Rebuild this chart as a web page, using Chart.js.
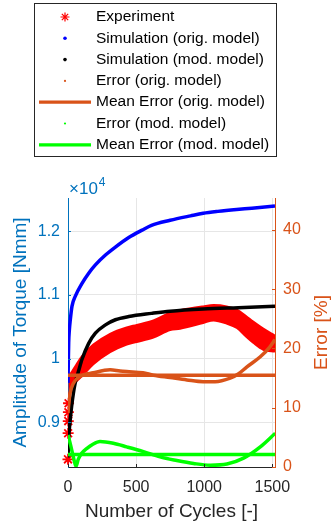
<!DOCTYPE html>
<html>
<head>
<meta charset="utf-8">
<script src="https://cdn.jsdelivr.net/npm/chart.js@4.4.1/dist/chart.umd.min.js"></script>
<style>
html, body { margin: 0; padding: 0; background: #fff; }
#wrap { width: 333px; height: 526px; }
</style>
</head>
<body>
<div id="wrap"><canvas id="cyclesChart" width="333" height="526"></canvas></div>
<script>
var xTicks = [0, 500, 1000, 1500];
var torqueTicks = [9000, 10000, 11000, 12000];
var errorTicks = [0, 10, 20, 30, 40];

// experiment: first cycles as single markers, the rest as a band
var expCycles = [0, 1, 2, 3, 4];
var expTorque = [8420, 8830, 9020, 9160, 9300];
var bandCycles = [3, 10, 30, 60, 100, 186, 309, 431, 505, 627, 750, 823, 993, 1069, 1165, 1240, 1311, 1360, 1434, 1520];
var bandUpper = [9650, 9720, 9800, 9900, 10030, 10220, 10390, 10490, 10530, 10600, 10720, 10760, 10820, 10840, 10820, 10770, 10660, 10580, 10470, 10360];
var bandLower = [9300, 9450, 9550, 9640, 9720, 9910, 10100, 10220, 10260, 10330, 10450, 10470, 10560, 10600, 10550, 10480, 10340, 10250, 10140, 10110];

var origCycles = [0, 2, 5, 10, 17, 29, 54, 103, 152, 201, 275, 348, 446, 544, 613, 750, 900, 993, 1100, 1238, 1350, 1520];
var origTorque = [9620, 9900, 10250, 10450, 10610, 10820, 10980, 11180, 11340, 11470, 11625, 11750, 11900, 12016, 12090, 12170, 12240, 12280, 12310, 12340, 12360, 12395];

var modCycles = [0, 5, 10, 20, 27, 39, 51, 66, 78, 103, 152, 201, 275, 348, 446, 613, 750, 993, 1250, 1520];
var modTorque = [8450, 8750, 8900, 9120, 9260, 9450, 9600, 9720, 9810, 9990, 10240, 10400, 10530, 10610, 10660, 10710, 10745, 10780, 10800, 10820];

var errOrigCycles = [0, 5, 15, 39, 88, 186, 309, 382, 431, 550, 627, 750, 873, 993, 1080, 1191, 1250, 1314, 1412, 1480, 1520];
var errOrig = [9.1, 10.5, 12.4, 14.1, 15.3, 15.9, 16.4, 16.2, 16.1, 15.9, 15.5, 15.1, 14.7, 14.4, 14.4, 15.0, 15.7, 16.9, 18.6, 20.2, 21.5];

var errModCycles = [0, 20, 40, 59, 75, 100, 137, 180, 235, 333, 431, 554, 676, 799, 922, 1044, 1167, 1289, 1412, 1522];
var errMod = [5.4, 3.6, 1.6, 0.1, 1.3, 2.3, 3.1, 3.8, 4.3, 4.0, 3.4, 2.6, 1.7, 1.1, 0.6, 0.3, 0.5, 1.5, 3.4, 5.7];

var meanErrOrig = 15.5;
var meanErrMod = 2.1;
var xMax = 1520;

var BLUE_AX = '#0072BD';
var ORANGE = '#D95319';
var DARK = '#262626';
var FONT = "'Liberation Sans', Arial, sans-serif";

Chart.defaults.font.family = FONT;

function pts(xs, ys) {
  return xs.map(function (x, i) { return {x: x, y: ys[i]}; });
}

function setTicks(list) {
  return function (scale) {
    scale.ticks = list.map(function (v) { return {value: v}; });
  };
}

var legendItems = [
  {label: 'Experiment', kind: 'star', color: '#ff0000'},
  {label: 'Simulation (orig. model)', kind: 'dot', color: '#0000ff', r: 1.8},
  {label: 'Simulation (mod. model)', kind: 'dot', color: '#000000', r: 1.8},
  {label: 'Error (orig. model)', kind: 'dot', color: ORANGE, r: 1.1},
  {label: 'Mean Error (orig. model)', kind: 'line', color: ORANGE},
  {label: 'Error (mod. model)', kind: 'dot', color: '#00ff00', r: 1.1},
  {label: 'Mean Error (mod. model)', kind: 'line', color: '#00ff00'}
];

var extras = {
  id: 'extras',
  afterDraw: function (chart) {
    var ctx = chart.ctx;
    var area = chart.chartArea;
    var sc = chart.scales;
    ctx.save();

    // inward tick marks, matlab style
    ctx.lineWidth = 1;
    ctx.strokeStyle = DARK;
    xTicks.forEach(function (v) {
      var px = Math.round(sc.x.getPixelForValue(v)) + 0.5;
      ctx.beginPath(); ctx.moveTo(px, area.bottom); ctx.lineTo(px, area.bottom - 3); ctx.stroke();
    });
    ctx.strokeStyle = BLUE_AX;
    torqueTicks.forEach(function (v) {
      var py = Math.round(sc.yL.getPixelForValue(v)) + 0.5;
      ctx.beginPath(); ctx.moveTo(area.left, py); ctx.lineTo(area.left + 3, py); ctx.stroke();
    });
    ctx.strokeStyle = ORANGE;
    errorTicks.forEach(function (v) {
      var py = Math.round(sc.yR.getPixelForValue(v)) + 0.5;
      ctx.beginPath(); ctx.moveTo(area.right, py); ctx.lineTo(area.right - 3, py); ctx.stroke();
    });

    // legend box
    ctx.strokeStyle = DARK;
    ctx.lineWidth = 1;
    ctx.strokeRect(34.5, 3.5, 242, 153);
    ctx.font = '15.5px ' + FONT;
    ctx.textBaseline = 'middle';
    ctx.textAlign = 'left';
    legendItems.forEach(function (it, i) {
      var y = 17 + i * 21.3;
      ctx.strokeStyle = it.color;
      ctx.fillStyle = it.color;
      if (it.kind === 'star') {
        ctx.lineWidth = 1.2;
        ctx.beginPath();
        for (var a = 0; a < 4; a++) {
          var ang = a * Math.PI / 4;
          ctx.moveTo(65 - 4.5 * Math.cos(ang), y - 4.5 * Math.sin(ang));
          ctx.lineTo(65 + 4.5 * Math.cos(ang), y + 4.5 * Math.sin(ang));
        }
        ctx.stroke();
      } else if (it.kind === 'dot') {
        ctx.beginPath();
        ctx.arc(65, y, it.r, 0, Math.PI * 2);
        ctx.fill();
      } else {
        ctx.lineWidth = 3.2;
        ctx.beginPath();
        ctx.moveTo(39, y);
        ctx.lineTo(91, y);
        ctx.stroke();
      }
      ctx.fillStyle = '#000';
      ctx.fillText(it.label, 96, y);
    });

    // x10^4 exponent
    ctx.fillStyle = BLUE_AX;
    ctx.textBaseline = 'alphabetic';
    ctx.font = '17px ' + FONT;
    ctx.fillText('\u00d710', area.left + 1, 194);
    var w = ctx.measureText('\u00d710').width;
    ctx.font = '12px ' + FONT;
    ctx.fillText('4', area.left + 1 + w + 1, 186);

    // right axis title, reading upward
    ctx.translate(322, (area.top + area.bottom) / 2);
    ctx.rotate(-Math.PI / 2);
    ctx.textAlign = 'center';
    ctx.textBaseline = 'middle';
    ctx.font = '19px ' + FONT;
    ctx.fillStyle = ORANGE;
    ctx.fillText('Error [%]', 0, 0);
    ctx.restore();
  }
};

var line = {showLine: true, pointRadius: 0, pointHoverRadius: 0, cubicInterpolationMode: 'monotone'};

var ctxC = document.getElementById('cyclesChart').getContext('2d');
var cyclesChart = new Chart(ctxC, {
  type: 'scatter',
  data: {
    datasets: [
      Object.assign({}, line, {
        label: 'Experiment band top',
        data: pts(bandCycles, bandUpper),
        yAxisID: 'yL',
        borderColor: '#ff0000',
        backgroundColor: '#ff0000',
        borderWidth: 2,
        fill: '+1',
        order: 11
      }),
      Object.assign({}, line, {
        label: 'Experiment band bottom',
        data: pts(bandCycles, bandLower),
        yAxisID: 'yL',
        borderColor: '#ff0000',
        borderWidth: 2,
        fill: false,
        order: 12
      }),
      {
        label: 'Experiment',
        data: pts(expCycles, expTorque),
        yAxisID: 'yL',
        showLine: false,
        pointStyle: 'star',
        pointRadius: 5.5,
        borderColor: '#ff0000',
        borderWidth: 1.8,
        clip: false,
        order: 10
      },
      Object.assign({}, line, {
        label: 'Simulation (orig. model)',
        data: pts(origCycles, origTorque),
        yAxisID: 'yL',
        borderColor: '#0000ff',
        borderWidth: 3.5,
        order: 9
      }),
      Object.assign({}, line, {
        label: 'Simulation (mod. model)',
        data: pts(modCycles, modTorque),
        yAxisID: 'yL',
        borderColor: '#000000',
        borderWidth: 3.5,
        order: 8
      }),
      Object.assign({}, line, {
        label: 'Error (orig. model)',
        data: pts(errOrigCycles, errOrig),
        yAxisID: 'yR',
        borderColor: ORANGE,
        borderWidth: 3.5,
        order: 7
      }),
      Object.assign({}, line, {
        label: 'Mean Error (orig. model)',
        data: [{x: 0, y: meanErrOrig}, {x: xMax, y: meanErrOrig}],
        yAxisID: 'yR',
        borderColor: ORANGE,
        borderWidth: 3.5,
        order: 6
      }),
      Object.assign({}, line, {
        label: 'Error (mod. model)',
        data: pts(errModCycles, errMod),
        yAxisID: 'yR',
        borderColor: '#00ff00',
        borderWidth: 3.5,
        order: 5
      }),
      Object.assign({}, line, {
        label: 'Mean Error (mod. model)',
        data: [{x: 0, y: meanErrMod}, {x: xMax, y: meanErrMod}],
        yAxisID: 'yR',
        borderColor: '#00ff00',
        borderWidth: 3.5,
        order: 4
      })
    ]
  },
  options: {
    responsive: false,
    animation: false,
    events: [],
    layout: {padding: {top: 198, left: 0, right: 0, bottom: 0}},
    plugins: {legend: {display: false}, tooltip: {enabled: false}},
    scales: {
      x: {
        type: 'linear',
        position: 'bottom',
        min: 0,
        max: xMax,
        afterBuildTicks: setTicks(xTicks),
        afterFit: function (s) { s.height = 59; },
        ticks: {color: DARK, font: {size: 16}, padding: 11, maxRotation: 0, callback: function (v) { return String(v); }},
        grid: {color: '#e6e6e6', drawTicks: false},
        border: {color: DARK, width: 1},
        title: {display: true, text: 'Number of Cycles [-]', color: DARK, font: {size: 19}, padding: {top: 0, bottom: 2.5}}
      },
      yL: {
        type: 'linear',
        position: 'left',
        min: 8300,
        max: 12520,
        afterBuildTicks: setTicks(torqueTicks),
        afterFit: function (s) { s.width = 68; },
        ticks: {color: BLUE_AX, font: {size: 16}, padding: 8, callback: function (v) { return String(v / 10000); }},
        grid: {color: '#e6e6e6', drawTicks: false},
        border: {color: BLUE_AX, width: 1},
        title: {display: true, text: 'Amplitude of Torque [Nmm]', color: BLUE_AX, font: {size: 19}, padding: {top: 9.5, bottom: 0}}
      },
      yR: {
        type: 'linear',
        position: 'right',
        min: 0,
        max: 45.4,
        afterBuildTicks: setTicks(errorTicks),
        afterFit: function (s) { s.width = 58; },
        ticks: {color: ORANGE, font: {size: 16}, padding: 8},
        grid: {drawOnChartArea: false, drawTicks: false},
        border: {color: ORANGE, width: 1}
      }
    }
  },
  plugins: [extras]
});
</script>
</body>
</html>
